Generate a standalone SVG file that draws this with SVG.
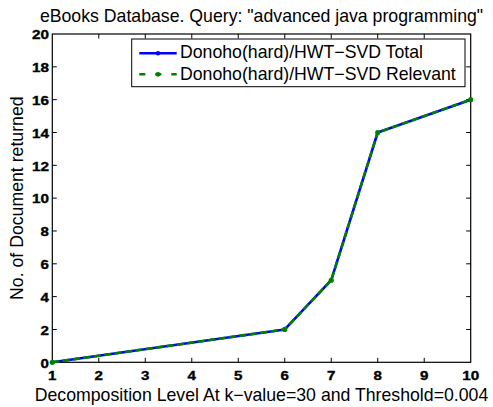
<svg xmlns="http://www.w3.org/2000/svg" width="493" height="407" viewBox="0 0 493 407">
  <style>
    text { font-family: "Liberation Sans", Arial, sans-serif; fill: #000; }
    .lab { font-size: 17.7px; }
    text.tick { font-size: 12.8px; font-weight: 700; stroke: #000; stroke-width: 0.35; }
    .ax { fill: none; stroke: #000; stroke-width: 1.2; }
    .tk { fill: none; stroke: #000; stroke-width: 1; }
    .blue { fill: none; stroke: #0000FF; stroke-width: 2.6; stroke-linejoin: round; }
    .green { fill: none; stroke: #008000; stroke-width: 2.6; stroke-dasharray: 7 3.5; }
    .gdot { fill: #008000; }
    .bdot { fill: #0000FF; }
  </style>
  <rect width="493" height="407" fill="#fff"/>

  <g id="title">
    <text class="lab" x="261.5" y="21.5" text-anchor="middle">eBooks Database. Query: "advanced java programming"</text>
  </g>

  <g id="axes">
    <rect class="ax" x="52.3" y="34" width="418.4" height="328.3"/>
    <path class="tk" d="M98.79 362.3v-4.5M145.28 362.3v-4.5M191.77 362.3v-4.5M238.26 362.3v-4.5M284.75 362.3v-4.5M331.24 362.3v-4.5M377.73 362.3v-4.5M424.22 362.3v-4.5
                        M98.79 34v4.5M145.28 34v4.5M191.77 34v4.5M238.26 34v4.5M284.75 34v4.5M331.24 34v4.5M377.73 34v4.5M424.22 34v4.5
                        M52.3 329.47h4.5M52.3 296.64h4.5M52.3 263.81h4.5M52.3 230.98h4.5M52.3 198.15h4.5M52.3 165.32h4.5M52.3 132.49h4.5M52.3 99.66h4.5M52.3 66.83h4.5
                        M470.7 329.47h-4.5M470.7 296.64h-4.5M470.7 263.81h-4.5M470.7 230.98h-4.5M470.7 198.15h-4.5M470.7 165.32h-4.5M470.7 132.49h-4.5M470.7 99.66h-4.5M470.7 66.83h-4.5"/>
    <g text-anchor="middle">
      <text class="tick" x="52.3" y="380" textLength="8.4" lengthAdjust="spacingAndGlyphs">1</text>
      <text class="tick" x="98.79" y="380" textLength="8.4" lengthAdjust="spacingAndGlyphs">2</text>
      <text class="tick" x="145.28" y="380" textLength="8.4" lengthAdjust="spacingAndGlyphs">3</text>
      <text class="tick" x="191.77" y="380" textLength="8.4" lengthAdjust="spacingAndGlyphs">4</text>
      <text class="tick" x="238.26" y="380" textLength="8.4" lengthAdjust="spacingAndGlyphs">5</text>
      <text class="tick" x="284.75" y="380" textLength="8.4" lengthAdjust="spacingAndGlyphs">6</text>
      <text class="tick" x="331.24" y="380" textLength="8.4" lengthAdjust="spacingAndGlyphs">7</text>
      <text class="tick" x="377.73" y="380" textLength="8.4" lengthAdjust="spacingAndGlyphs">8</text>
      <text class="tick" x="424.22" y="380" textLength="8.4" lengthAdjust="spacingAndGlyphs">9</text>
      <text class="tick" x="470.7" y="380" textLength="17" lengthAdjust="spacingAndGlyphs">10</text>
    </g>
    <g text-anchor="end">
      <text class="tick" x="49" y="367.5" textLength="8.4" lengthAdjust="spacingAndGlyphs">0</text>
      <text class="tick" x="49" y="334.7" textLength="8.4" lengthAdjust="spacingAndGlyphs">2</text>
      <text class="tick" x="49" y="301.9" textLength="8.4" lengthAdjust="spacingAndGlyphs">4</text>
      <text class="tick" x="49" y="269.1" textLength="8.4" lengthAdjust="spacingAndGlyphs">6</text>
      <text class="tick" x="49" y="236.3" textLength="8.4" lengthAdjust="spacingAndGlyphs">8</text>
      <text class="tick" x="49" y="203.4" textLength="17" lengthAdjust="spacingAndGlyphs">10</text>
      <text class="tick" x="49" y="170.6" textLength="17" lengthAdjust="spacingAndGlyphs">12</text>
      <text class="tick" x="49" y="137.8" textLength="17" lengthAdjust="spacingAndGlyphs">14</text>
      <text class="tick" x="49" y="104.9" textLength="17" lengthAdjust="spacingAndGlyphs">16</text>
      <text class="tick" x="49" y="72.1" textLength="17" lengthAdjust="spacingAndGlyphs">18</text>
      <text class="tick" x="49" y="39.3" textLength="17" lengthAdjust="spacingAndGlyphs">20</text>
    </g>
    <text class="lab" x="261.5" y="400.5" text-anchor="middle">Decomposition Level At k−value=30 and Threshold=0.004</text>
    <text class="lab" x="0" y="0" text-anchor="middle" transform="translate(22.5 198.2) rotate(-90)">No. of Document returned</text>
  </g>

  <g id="connectors">
    <polyline id="total" class="blue" points="52.3,362.3 284.75,329.47 331.24,280.23 377.73,132.49 470.7,99.66"/>
    <polyline id="relevant" class="green" points="52.3,362.3 284.75,329.47 331.24,280.23 377.73,132.49 470.7,99.66"/>
    <g id="points">
      <circle class="gdot" cx="52.3" cy="362.3" r="2.6"/>
      <circle class="gdot" cx="284.75" cy="329.47" r="2.6"/>
      <circle class="gdot" cx="331.24" cy="280.23" r="2.6"/>
      <circle class="gdot" cx="377.73" cy="132.49" r="2.6"/>
      <circle class="gdot" cx="470.7" cy="99.66" r="2.6"/>
    </g>
  </g>

  <g id="legend">
    <rect x="131.7" y="39" width="333.3" height="47.7" fill="#fff" stroke="#000" stroke-width="1"/>
    <line x1="139.3" y1="53.3" x2="176.7" y2="53.3" stroke="#0000FF" stroke-width="2.6"/>
    <circle class="bdot" cx="158" cy="53.3" r="2.2"/>
    <line x1="139.3" y1="74.3" x2="176.7" y2="74.3" stroke="#008000" stroke-width="2.6" stroke-dasharray="6 10"/>
    <circle class="gdot" cx="158" cy="74.3" r="2.4"/>
    <text class="lab" x="180" y="58.3">Donoho(hard)/HWT−SVD Total</text>
    <text class="lab" x="180" y="80">Donoho(hard)/HWT−SVD Relevant</text>
  </g>
</svg>
